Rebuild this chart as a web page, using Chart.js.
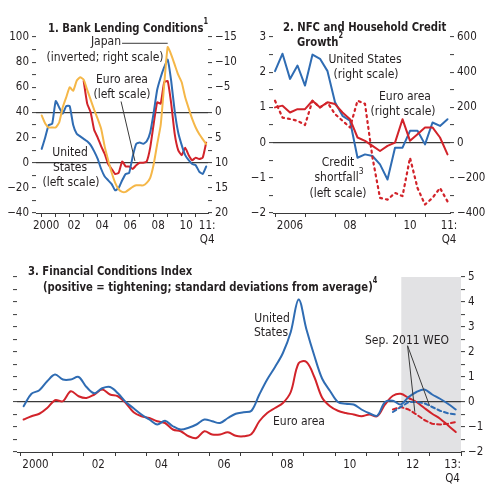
<!DOCTYPE html>
<html><head><meta charset="utf-8">
<script src="https://cdn.jsdelivr.net/npm/chart.js@4.4.1/dist/chart.umd.min.js"></script>
<style>
html,body{margin:0;padding:0;background:#fff;}
#wrap{position:relative;width:500px;height:494px;overflow:hidden;font-family:'DejaVu Sans Condensed','DejaVu Sans',sans-serif;color:#231f20;}
canvas{position:absolute;}
.t{position:absolute;white-space:nowrap;font-size:12px;line-height:15px;}
.c{transform:translateX(-50%);text-align:center;}
.b{font-weight:bold;font-size:13px;transform:scaleX(0.86);transform-origin:0 0;}
sup{font-size:8.5px;line-height:0;vertical-align:top;position:relative;top:1px;}
</style></head>
<body><div id="wrap">
<canvas id="c1" width="250" height="250" style="left:0;top:0"></canvas>
<canvas id="c2" width="250" height="250" style="left:250px;top:0"></canvas>
<canvas id="c3" width="500" height="244" style="left:0;top:250px"></canvas>

<div class="t b" style="left:48px;top:20px">1. Bank Lending Conditions<sup>1</sup></div>
<div class="t c" style="left:106px;top:34px">Japan</div>
<div class="t c" style="left:105px;top:50px">(inverted; right scale)</div>
<div class="t c" style="left:122px;top:72px">Euro area</div>
<div class="t c" style="left:122px;top:87px">(left scale)</div>
<div class="t c" style="left:70px;top:145px">United</div>
<div class="t c" style="left:70px;top:160px">States</div>
<div class="t c" style="left:71px;top:175px">(left scale)</div>

<div class="t b" style="left:283px;top:19px">2. NFC and Household Credit</div>
<div class="t b" style="left:297px;top:34px">Growth<sup>2</sup></div>
<div class="t c" style="left:365px;top:52px">United States</div>
<div class="t c" style="left:366px;top:67px">(right scale)</div>
<div class="t c" style="left:405px;top:89px">Euro area</div>
<div class="t c" style="left:403px;top:104px">(right scale)</div>
<div class="t c" style="left:338px;top:155px">Credit</div>
<div class="t c" style="left:339px;top:170px">shortfall<sup>3</sup></div>
<div class="t c" style="left:338px;top:186px">(left scale)</div>

<div class="t b" style="left:28px;top:263px">3. Financial Conditions Index</div>
<div class="t b" style="left:43px;top:279px">(positive = tightening; standard deviations from average)<sup>4</sup></div>
<div class="t c" style="left:272px;top:311px">United</div>
<div class="t c" style="left:271px;top:325px">States</div>
<div class="t c" style="left:299px;top:414px">Euro area</div>
<div class="t c" style="left:407px;top:333px">Sep. 2011 WEO</div>
</div>
<script>
// ================= DATA =================
// Panel 1: Bank lending conditions, quarterly 2000:Q1 - 2011:Q4
const p1Quarters = quarterList(2000, 2011);
const bankLendingUS = [11,20,30,31, 49,44,39,45, 45,30,23,21, 19,17,14,9, 3,-5,-11,-14, -17,-22,-20,-14, -9,-8,5,15, 16,15,17,24, 40,58,68,76, 82,65,41,24, 14,6,2,-1, -2,-7,-9,-3];
const bankLendingEuro = [null,null,null,null, null,null,null,null, null,null,null,null, 65,47,40,26, 20,13,7,-1, -5,-9,-8,1, -3,-3,-5,-2, 0,0,1,12, 31,48,47,64, 65,47,23,10, 6,12,6,2, 4,3,4,16];
const bankLendingJapan = [0.6,2.2,3,3, 3,2,-1,-3, -5,-4.3,-6.3,-7, -6.5,-4.5,-2.5,-0.5, 1.3,3.3,6.8,9.5, 12,14,15.3,15.8, 15.8,15.3,14.8,14.5, 14.5,14.5,14,13, 10.3,6.3,2.5,-5.5, -13,-11.5,-9.5,-7.5, -6,-3,-0.8,1.3, 3,4.3,5.3,6.3];
const p1XTicks = [2000,2001,2002,2003,2004,2005,2006,2007,2008,2009,2010,2011,2011.5];
const p1XLabels = ['2000','','02','','04','','06','','08','','10','','11:\nQ4'];

// Panel 2: NFC and household credit growth, quarterly 2006:Q1 - 2011:Q4
const p2Quarters = quarterList(2006, 2011);
const creditUS = [406,505,362,438, 324,500,476,406, 229,152,124,-86, -67,-76,-124,-210, -29,-29,67,67, -10,114,95,133];
const creditEuro = [200,210,171,190, 190,238,200,229, 219,171,133,29, 10,-19,-48,-19, 0,133,10,48, 86,86,29,-67];
const creditShortfall = [1.19,0.71,0.67,0.62, 0.5,1.19,1.0,1.14, 0.81,0.62,0.43,1.19, 1.1,-0.43,-1.57,-1.62, -1.43,-1.52,-0.43,-1.29, -1.76,-1.57,-1.29,-1.67];
const p2XTicks = [2006,2007,2008,2009,2010,2011,2011.3];
const p2XLabels = ['2006','','08','','10','','11:\nQ4'];

// Panel 3: Financial conditions index, quarterly 2000:Q1 - 2013:Q4
const p3Quarters = quarterList(2000, 2013);
const fciUS = [-0.17,0.33,0.47,0.83, 1.1,0.9,0.9,1.0, 0.6,0.35,0.55,0.6, 0.35,0.0,-0.25,-0.5, -0.7,-0.9,-0.75,-0.97, -1.1,-1.03,-0.9,-0.7, -0.77,-0.84,-0.64,-0.47, -0.41,-0.35,0.3,0.9, 1.4,1.96,2.8,4.1, 2.9,1.85,0.93,0.44, 0.0,-0.07,-0.1,-0.3, -0.45,-0.55,0.0,0.05, -0.1,0.2,0.4,0.5, 0.3,0.13,-0.07,-0.3];
const fciEuro = [-0.7,-0.57,-0.47,-0.24, 0.07,0.03,0.43,0.23, 0.16,0.3,0.5,0.3, 0.23,-0.04,-0.41,-0.57, -0.64,-0.77,-0.84,-1.1, -1.17,-1.37,-1.44,-1.17, -1.3,-1.3,-1.21,-1.35, -1.37,-1.28,-0.77,-0.44, -0.24,-0.04,0.4,1.55, 1.6,1.0,0.17,-0.17, -0.35,-0.44,-0.5,-0.57, -0.5,-0.57,-0.1,0.25, 0.33,0.16,0.0,-0.24, -0.47,-0.67,-0.93,-1.2];
const weoStart = 47; // 2011:Q4 index
const fciUSWeo = [-0.4,-0.2,0.0,0.0,-0.05,-0.2,-0.35,-0.45,-0.5];
const fciEuroWeo = [-0.3,-0.2,-0.3,-0.5,-0.72,-0.87,-0.9,-0.87,-0.8];
const forecastShade = [2012.1, 2014];
const p3XTicks = [2000,2001,2002,2003,2004,2005,2006,2007,2008,2009,2010,2011,2012,2013,2013.27,2014];
const p3XLabels = ['2000','','02','','04','','06','','08','','10','','12','','13:\nQ4',''];

// ================= HELPERS =================
function quarterList(y0, y1){ const out=[]; for(let y=y0;y<=y1;y++) for(let q=1;q<=4;q++) out.push(y+'Q'+q); return out; }
function qToYear(s, off){ const y=+s.slice(0,4), q=+s.slice(5); return y+(q-1)/4+(off||0); }
function pts(quarters, vals, off, start){ return vals.map((v,i)=>({x:qToYear(quarters[(start||0)+i], off), y:v})); }
const FONT = "'DejaVu Sans Condensed','DejaVu Sans',sans-serif";
const INK = '#231f20', AX = '#3a3a3a';
const BLUE = '#2f6cb3', RED = '#d2232a', YEL = '#f5b748';
Chart.defaults.font.family = FONT;
Chart.defaults.color = INK;
const TF = {size:11.5};
const mnum = v => (v<0?'\u2212':'') + Math.abs(v);
function setTicks(list){ return s => { s.ticks = list.map(v=>({value:v})); }; }
function range(a,b,st){ const o=[]; for(let v=a; v<=b+1e-9; v+=st) o.push(Math.round(v*100)/100); return o; }
function xAxis(min,max,ticks,labels,offset,height){
  return { type:'linear', min, max, afterBuildTicks:setTicks(ticks),
    afterFit: s=>{ s.height = height; },
    ticks:{ autoSkip:false, maxRotation:0, minRotation:0, labelOffset:offset, padding:2, color:INK, font:TF,
      callback:(v)=>{ const i=ticks.indexOf(v); const l=i>=0?labels[i]:''; return l.indexOf('\n')>=0?l.split('\n'):l; } },
    grid:{ drawOnChartArea:false, tickLength:4, lineWidth:1,
      tickColor: ctx => (ctx.tick && Math.abs(ctx.tick.value-Math.round(ctx.tick.value))>1e-6) ? 'rgba(0,0,0,0)' : AX },
    border:{ display:true, color:AX, width:1 } };
}
function yAxis(pos,min,max,ticks,isLabel,zeroVals,width,reverse,showLabels){
  return { type:'linear', position:pos, min, max, reverse:!!reverse, afterBuildTicks:setTicks(ticks),
    afterFit: s=>{ s.width = width; },
    ticks:{ autoSkip:false, padding:3, color:INK, font:TF,
      callback:(v)=> (showLabels!==false && isLabel(v)) ? mnum(v) : '' },
    grid:{ drawOnChartArea: zeroVals.length>0, tickLength:4, lineWidth:1.2, tickWidth:1,
      color: ctx => (ctx.tick && zeroVals.indexOf(ctx.tick.value)>=0) ? AX : 'rgba(0,0,0,0)',
      tickColor: AX },
    border:{ display:false } };
}
const annot = {
  id:'annot',
  beforeDraw(chart, args, o){
    if(!o.shade) return;
    const {ctx, chartArea:a} = chart, xs = chart.scales.x;
    const x0 = xs.getPixelForValue(o.shade[0]), x1 = xs.getPixelForValue(o.shade[1]);
    ctx.save(); ctx.fillStyle = '#e2e2e4'; ctx.fillRect(x0, a.top, x1-x0, a.bottom-a.top); ctx.restore();
  },
  afterDatasetsDraw(chart, args, o){
    const ctx = chart.ctx, xs = chart.scales.x;
    (o.leaders||[]).forEach(l=>{
      const ys = chart.scales[l.axis];
      ctx.save(); ctx.strokeStyle = AX; ctx.lineWidth = 1; ctx.beginPath();
      l.pts.forEach((p,i)=>{ const px=xs.getPixelForValue(p[0]), py=ys.getPixelForValue(p[1]); i?ctx.lineTo(px,py):ctx.moveTo(px,py); });
      ctx.stroke(); ctx.restore();
    });
  }
};
const baseOpts = { responsive:false, animation:false, devicePixelRatio:1,
  plugins:{ legend:{display:false}, tooltip:{enabled:false} },
  elements:{ point:{radius:0}, line:{borderWidth:2, borderCapStyle:'round', borderJoinStyle:'round'} } };

// ================= PANEL 1 =================
new Chart(document.getElementById('c1'), {
  type:'line',
  data:{ datasets:[
    { data:pts(p1Quarters,bankLendingJapan), yAxisID:'y1', borderColor:YEL, tension:0.15 },
    { data:pts(p1Quarters,bankLendingUS), yAxisID:'y', borderColor:BLUE, tension:0.15 },
    { data:pts(p1Quarters,bankLendingEuro), yAxisID:'y', borderColor:RED, tension:0.15 }
  ]},
  options:Object.assign({}, baseOpts, {
    layout:{ padding:{ top:37, left:0, right:0, bottom:0 } },
    scales:{
      x: xAxis(1999.593, 2011.879, p1XTicks, p1XLabels, 4.5, 37),
      y: yAxis('left', -40, 100, range(-40,100,10), v=>v%20===0, [0,40], 36),
      y1: yAxis('right', -15, 20, range(-15,20,2.5), v=>v%5===0, [], 42, true)
    },
    plugins:Object.assign({}, baseOpts.plugins, { annot:{ leaders:[
      { axis:'y', pts:[[2005.74,95],[2009.0,95]] },
      { axis:'y', pts:[[2005.67,48.7],[2006.66,1.4]] }
    ] } })
  }),
  plugins:[annot]
});

// ================= PANEL 2 =================
new Chart(document.getElementById('c2'), {
  type:'line',
  data:{ datasets:[
    { data:pts(p2Quarters,creditShortfall), yAxisID:'y', borderColor:RED, borderDash:[2,4], borderWidth:2.2 },
    { data:pts(p2Quarters,creditEuro), yAxisID:'y1', borderColor:RED },
    { data:pts(p2Quarters,creditUS), yAxisID:'y1', borderColor:BLUE }
  ]},
  options:Object.assign({}, baseOpts, {
    layout:{ padding:{ top:37, left:0, right:0, bottom:0 } },
    scales:{
      x: xAxis(2005.933, 2011.833, p2XTicks, p2XLabels, 15, 37),
      y: yAxis('left', -2, 3, range(-2,3,0.5), v=>Number.isInteger(v), [0], 23),
      y1: yAxis('right', -400, 600, range(-400,600,100), v=>v%200===0, [], 50)
    },
    plugins:Object.assign({}, baseOpts.plugins, { annot:{} })
  }),
  plugins:[annot]
});

// ================= PANEL 3 =================
new Chart(document.getElementById('c3'), {
  type:'line',
  data:{ datasets:[
    { data:pts(p3Quarters,fciUSWeo,1/12,weoStart), yAxisID:'y', borderColor:BLUE, borderDash:[4,3] },
    { data:pts(p3Quarters,fciEuroWeo,1/12,weoStart), yAxisID:'y', borderColor:RED, borderDash:[4,3] },
    { data:pts(p3Quarters,fciUS,1/12), yAxisID:'y', borderColor:BLUE, tension:0.35 },
    { data:pts(p3Quarters,fciEuro,1/12), yAxisID:'y', borderColor:RED, tension:0.35 }
  ]},
  options:Object.assign({}, baseOpts, {
    layout:{ padding:{ top:27, left:0, right:0, bottom:0 } },
    scales:{
      x: xAxis(1999.873, 2014, p3XTicks, p3XLabels, 14.5, 42),
      yl: yAxis('left', -2, 5, range(-2,5,0.5), v=>false, [], 17, false, false),
      y: yAxis('right', -2, 5, range(-2,5,0.5), v=>Number.isInteger(v), [0], 39)
    },
    plugins:Object.assign({}, baseOpts.plugins, { annot:{ shade:forecastShade, leaders:[
      { axis:'y', pts:[[2012.3,2.25],[2012.53,-0.39]] },
      { axis:'y', pts:[[2012.3,2.25],[2013.0,-0.15]] }
    ] } })
  }),
  plugins:[annot]
});
</script>
</body></html>
